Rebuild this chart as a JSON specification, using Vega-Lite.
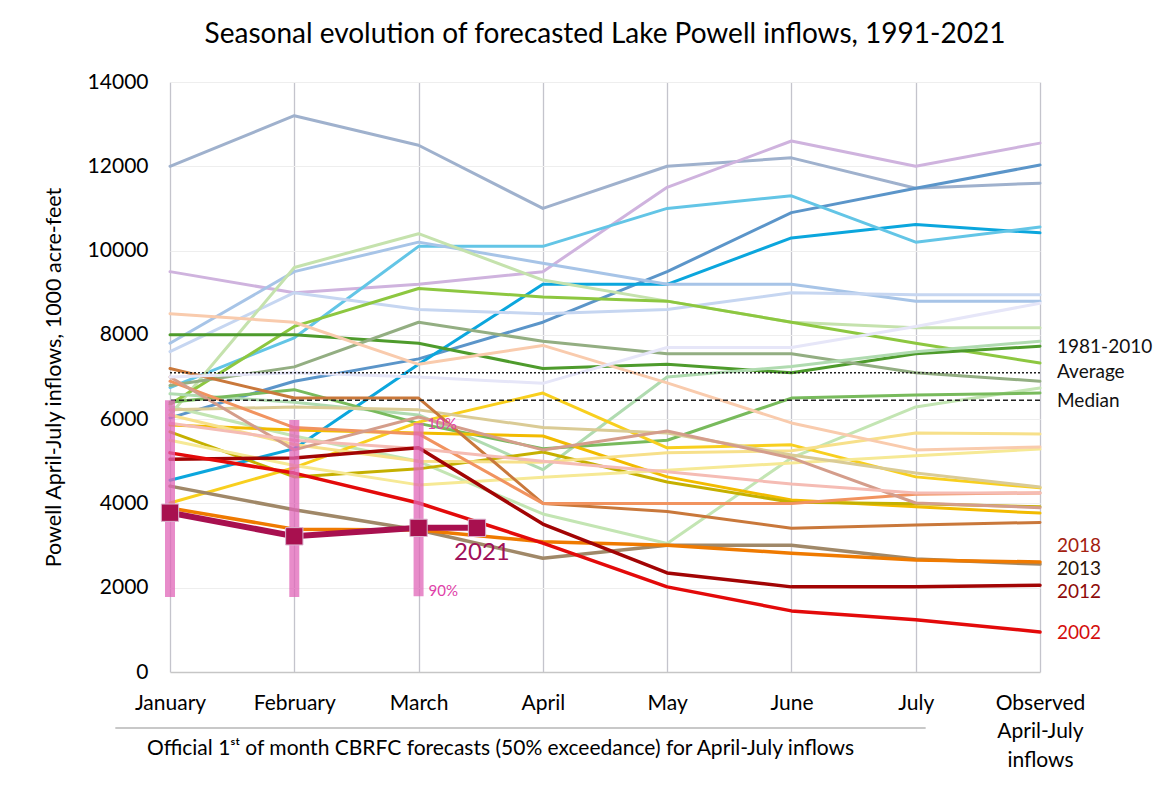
{
  "$schema": "https://vega.github.io/schema/vega-lite/v6.json",
  "width": 870,
  "height": 590,
  "autosize": {"type": "none"},
  "padding": {"left": 170, "top": 82, "right": 128, "bottom": 114},
  "background": "white",
  "config": {"font": "Lato", "view": {"stroke": null}},
  "title": {"text": "Seasonal evolution of forecasted Lake Powell inflows, 1991-2021", "font": "Lato", "fontSize": 28, "fontWeight": "normal", "color": "black", "anchor": "middle", "offset": 22},
  "resolve": {"scale": {"color": "independent"}},
  "datasets": {
    "lines": [
      {"year":1997,"m":0,"v":12000},{"year":1997,"m":1,"v":13200},{"year":1997,"m":2,"v":12500},{"year":1997,"m":3,"v":11000},{"year":1997,"m":4,"v":12000},{"year":1997,"m":5,"v":12200},{"year":1997,"m":6,"v":11480},{"year":1997,"m":7,"v":11600},
      {"year":2011,"m":0,"v":9500},{"year":2011,"m":1,"v":9000},{"year":2011,"m":2,"v":9200},{"year":2011,"m":3,"v":9500},{"year":2011,"m":4,"v":11500},{"year":2011,"m":5,"v":12600},{"year":2011,"m":6,"v":12000},{"year":2011,"m":7,"v":12550},
      {"year":1995,"m":0,"v":6030},{"year":1995,"m":1,"v":6900},{"year":1995,"m":2,"v":7430},{"year":1995,"m":3,"v":8300},{"year":1995,"m":4,"v":9500},{"year":1995,"m":5,"v":10900},{"year":1995,"m":6,"v":11480},{"year":1995,"m":7,"v":12030},
      {"year":2019,"m":0,"v":4550},{"year":2019,"m":1,"v":5300},{"year":2019,"m":2,"v":7300},{"year":2019,"m":3,"v":9200},{"year":2019,"m":4,"v":9200},{"year":2019,"m":5,"v":10300},{"year":2019,"m":6,"v":10620},{"year":2019,"m":7,"v":10420},
      {"year":1993,"m":0,"v":6750},{"year":1993,"m":1,"v":7930},{"year":1993,"m":2,"v":10100},{"year":1993,"m":3,"v":10100},{"year":1993,"m":4,"v":11000},{"year":1993,"m":5,"v":11300},{"year":1993,"m":6,"v":10200},{"year":1993,"m":7,"v":10560},
      {"year":2008,"m":0,"v":7800},{"year":2008,"m":1,"v":9500},{"year":2008,"m":2,"v":10200},{"year":2008,"m":3,"v":9700},{"year":2008,"m":4,"v":9200},{"year":2008,"m":5,"v":9200},{"year":2008,"m":6,"v":8800},{"year":2008,"m":7,"v":8800},
      {"year":1998,"m":0,"v":7600},{"year":1998,"m":1,"v":9000},{"year":1998,"m":2,"v":8600},{"year":1998,"m":3,"v":8500},{"year":1998,"m":4,"v":8600},{"year":1998,"m":5,"v":9000},{"year":1998,"m":6,"v":8950},{"year":1998,"m":7,"v":8950},
      {"year":1996,"m":0,"v":6100},{"year":1996,"m":1,"v":9600},{"year":1996,"m":2,"v":10400},{"year":1996,"m":3,"v":9300},{"year":1996,"m":4,"v":8800},{"year":1996,"m":5,"v":8300},{"year":1996,"m":6,"v":8170},{"year":1996,"m":7,"v":8170},
      {"year":2005,"m":0,"v":6350},{"year":2005,"m":1,"v":8200},{"year":2005,"m":2,"v":9100},{"year":2005,"m":3,"v":8900},{"year":2005,"m":4,"v":8800},{"year":2005,"m":5,"v":8300},{"year":2005,"m":6,"v":7800},{"year":2005,"m":7,"v":7330},
      {"year":2017,"m":0,"v":8000},{"year":2017,"m":1,"v":8000},{"year":2017,"m":2,"v":7800},{"year":2017,"m":3,"v":7200},{"year":2017,"m":4,"v":7300},{"year":2017,"m":5,"v":7100},{"year":2017,"m":6,"v":7550},{"year":2017,"m":7,"v":7730},
      {"year":2009,"m":0,"v":6800},{"year":2009,"m":1,"v":7240},{"year":2009,"m":2,"v":8300},{"year":2009,"m":3,"v":7850},{"year":2009,"m":4,"v":7550},{"year":2009,"m":5,"v":7550},{"year":2009,"m":6,"v":7100},{"year":2009,"m":7,"v":6900},
      {"year":1999,"m":0,"v":6600},{"year":1999,"m":1,"v":6400},{"year":1999,"m":2,"v":6100},{"year":1999,"m":3,"v":4800},{"year":1999,"m":4,"v":7000},{"year":1999,"m":5,"v":7250},{"year":1999,"m":6,"v":7600},{"year":1999,"m":7,"v":7850},
      {"year":2014,"m":0,"v":6300},{"year":2014,"m":1,"v":5600},{"year":2014,"m":2,"v":5000},{"year":2014,"m":3,"v":3750},{"year":2014,"m":4,"v":3050},{"year":2014,"m":5,"v":5080},{"year":2014,"m":6,"v":6290},{"year":2014,"m":7,"v":6740},
      {"year":2016,"m":0,"v":6400},{"year":2016,"m":1,"v":6700},{"year":2016,"m":2,"v":5900},{"year":2016,"m":3,"v":5300},{"year":2016,"m":4,"v":5500},{"year":2016,"m":5,"v":6500},{"year":2016,"m":6,"v":6570},{"year":2016,"m":7,"v":6620},
      {"year":2020,"m":0,"v":5860},{"year":2020,"m":1,"v":5740},{"year":2020,"m":2,"v":5670},{"year":2020,"m":3,"v":5600},{"year":2020,"m":4,"v":4630},{"year":2020,"m":5,"v":4080},{"year":2020,"m":6,"v":3920},{"year":2020,"m":7,"v":3770},
      {"year":2010,"m":0,"v":4010},{"year":2010,"m":1,"v":4850},{"year":2010,"m":2,"v":5930},{"year":2010,"m":3,"v":6620},{"year":2010,"m":4,"v":5320},{"year":2010,"m":5,"v":5390},{"year":2010,"m":6,"v":4630},{"year":2010,"m":7,"v":4370},
      {"year":2006,"m":0,"v":5700},{"year":2006,"m":1,"v":4630},{"year":2006,"m":2,"v":4820},{"year":2006,"m":3,"v":5220},{"year":2006,"m":4,"v":4510},{"year":2006,"m":5,"v":4030},{"year":2006,"m":6,"v":3990},{"year":2006,"m":7,"v":3920},
      {"year":2001,"m":0,"v":5500},{"year":2001,"m":1,"v":4900},{"year":2001,"m":2,"v":4440},{"year":2001,"m":3,"v":4620},{"year":2001,"m":4,"v":4790},{"year":2001,"m":5,"v":4960},{"year":2001,"m":6,"v":5130},{"year":2001,"m":7,"v":5290},
      {"year":1991,"m":0,"v":6100},{"year":1991,"m":1,"v":5400},{"year":1991,"m":2,"v":5000},{"year":1991,"m":3,"v":4980},{"year":1991,"m":4,"v":5200},{"year":1991,"m":5,"v":5250},{"year":1991,"m":6,"v":5670},{"year":1991,"m":7,"v":5650},
      {"year":2007,"m":0,"v":6220},{"year":2007,"m":1,"v":6290},{"year":2007,"m":2,"v":6220},{"year":2007,"m":3,"v":5800},{"year":2007,"m":4,"v":5670},{"year":2007,"m":5,"v":5150},{"year":2007,"m":6,"v":4720},{"year":2007,"m":7,"v":4390},
      {"year":2003,"m":0,"v":7200},{"year":2003,"m":1,"v":6500},{"year":2003,"m":2,"v":6500},{"year":2003,"m":3,"v":4000},{"year":2003,"m":4,"v":3810},{"year":2003,"m":5,"v":3410},{"year":2003,"m":6,"v":3490},{"year":2003,"m":7,"v":3550},
      {"year":2015,"m":0,"v":6900},{"year":2015,"m":1,"v":5800},{"year":2015,"m":2,"v":5650},{"year":2015,"m":3,"v":4000},{"year":2015,"m":4,"v":4000},{"year":2015,"m":5,"v":4000},{"year":2015,"m":6,"v":4220},{"year":2015,"m":7,"v":4250},
      {"year":1994,"m":0,"v":7000},{"year":1994,"m":1,"v":5270},{"year":1994,"m":2,"v":6050},{"year":1994,"m":3,"v":5270},{"year":1994,"m":4,"v":5720},{"year":1994,"m":5,"v":5080},{"year":1994,"m":6,"v":4010},{"year":1994,"m":7,"v":3900},
      {"year":2000,"m":0,"v":8500},{"year":2000,"m":1,"v":8300},{"year":2000,"m":2,"v":7300},{"year":2000,"m":3,"v":7750},{"year":2000,"m":4,"v":6860},{"year":2000,"m":5,"v":5910},{"year":2000,"m":6,"v":5270},{"year":2000,"m":7,"v":5340},
      {"year":1992,"m":0,"v":5900},{"year":1992,"m":1,"v":5500},{"year":1992,"m":2,"v":5300},{"year":1992,"m":3,"v":5000},{"year":1992,"m":4,"v":4750},{"year":1992,"m":5,"v":4460},{"year":1992,"m":6,"v":4250},{"year":1992,"m":7,"v":4250},
      {"year":2004,"m":0,"v":7000},{"year":2004,"m":1,"v":7100},{"year":2004,"m":2,"v":7000},{"year":2004,"m":3,"v":6850},{"year":2004,"m":4,"v":7700},{"year":2004,"m":5,"v":7700},{"year":2004,"m":6,"v":8200},{"year":2004,"m":7,"v":8750},
      {"year":2013,"m":0,"v":4410},{"year":2013,"m":1,"v":3850},{"year":2013,"m":2,"v":3370},{"year":2013,"m":3,"v":2700},{"year":2013,"m":4,"v":3010},{"year":2013,"m":5,"v":3010},{"year":2013,"m":6,"v":2680},{"year":2013,"m":7,"v":2560},
      {"year":2018,"m":0,"v":3890},{"year":2018,"m":1,"v":3390},{"year":2018,"m":2,"v":3370},{"year":2018,"m":3,"v":3090},{"year":2018,"m":4,"v":3010},{"year":2018,"m":5,"v":2820},{"year":2018,"m":6,"v":2660},{"year":2018,"m":7,"v":2610},
      {"year":2012,"m":0,"v":5050},{"year":2012,"m":1,"v":5080},{"year":2012,"m":2,"v":5320},{"year":2012,"m":3,"v":3510},{"year":2012,"m":4,"v":2350},{"year":2012,"m":5,"v":2020},{"year":2012,"m":6,"v":2020},{"year":2012,"m":7,"v":2060},
      {"year":2002,"m":0,"v":5200},{"year":2002,"m":1,"v":4720},{"year":2002,"m":2,"v":4010},{"year":2002,"m":3,"v":3060},{"year":2002,"m":4,"v":2020},{"year":2002,"m":5,"v":1450},{"year":2002,"m":6,"v":1240},{"year":2002,"m":7,"v":950}
    ],
    "y2021": [
      {"m":0,"v":3780},{"m":1,"v":3220},{"m":2,"v":3420},{"m":2.47,"v":3420}
    ],
    "bars": [
      {"m":0,"lo":1780,"hi":6450},{"m":1,"lo":1780,"hi":5980},{"m":2,"lo":1800,"hi":5910}
    ],
    "right": [
      {"t":"1981-2010","v":7710},{"t":"Average","v":7120},{"t":"Median","v":6440},
      {"t":"2018","v":2990},{"t":"2013","v":2440},{"t":"2012","v":1890},{"t":"2002","v":925}
    ],
    "pct": [
      {"t":"10%","m":2.07,"v":5890},{"t":"90%","m":2.08,"v":1930}
    ],
    "lab21": [
      {"t":"2021","m":2.51,"v":2830}
    ]
  },
  "layer": [
    {
      "data": {"name": "lines"},
      "transform": [{"filter": "indexof([2002, 2012, 2013, 2018], datum.year) < 0"}],
      "mark": {"type": "line", "strokeWidth": 3, "strokeCap": "round", "strokeJoin": "round"},
      "encoding": {
        "x": {"field": "m", "type": "quantitative",
          "scale": {"domain": [0, 7], "nice": false, "zero": false},
          "axis": {"values": [0,1,2,3,4,5,6,7],
            "labelExpr": "datum.value == 7 ? ['Observed','April-July','inflows'] : ['January','February','March','April','May','June','July'][datum.value]",
            "labelFont": "Lato", "labelFontSize": 21, "labelColor": "black", "labelPadding": 20, "labelLineHeight": 28.5,
            "labelOverlap": false, "labelFlush": false,
            "ticks": false, "domain": true, "domainColor": "#c6c6c6", "domainWidth": 1.5,
            "grid": true, "gridColor": "#c4c4cc", "gridWidth": 1.3,
            "title": "Official 1ˢᵗ of month CBRFC forecasts (50% exceedance) for April-July inflows",
            "titleFont": "Lato", "titleFontSize": 21, "titleFontWeight": "normal", "titleColor": "black",
            "titleX": 330, "titleY": 76, "titleBaseline": "middle", "titleAlign": "center"}},
        "y": {"field": "v", "type": "quantitative",
          "scale": {"domain": [0, 14000], "nice": false},
          "axis": {"values": [0,2000,4000,6000,8000,10000,12000,14000], "format": "d",
            "labelFont": "Lato", "labelFontSize": 21, "labelColor": "black", "labelPadding": 22,
            "ticks": false, "domain": false, "grid": true, "gridColor": "#eeeeee", "gridWidth": 1,
            "title": "Powell April-July inflows, 1000 acre-feet",
            "titleFont": "Lato", "titleFontSize": 21.5, "titleFontWeight": "normal", "titleColor": "black", "titlePadding": 22}},
        "color": {"field": "year", "type": "nominal", "legend": null,
          "scale": {
            "domain": [1997,2011,1995,2019,1993,2008,1998,1996,2005,2017,2009,1999,2014,2016,2020,2010,2006,2001,1991,2007,2003,2015,1994,2000,1992,2004],
            "range": ["#9fb1cd","#cfb3de","#5b95c9","#0ba6dd","#63c5e6","#a7c4e7","#c6d6f1","#c5e2ad","#8dc740","#4e9b2c","#93ae82","#b0dbb0","#c3e5b3","#78ba5c","#f2bb00","#f8cf1e","#c5b000","#f6e995","#f7e08a","#dacb95","#c9783b","#f1935f","#d49d8b","#f9cbad","#f5bcb4","#e6e6f8"]}}
      }
    },
    {
      "data": {"name": "lines"},
      "transform": [{"filter": "indexof([2002, 2012, 2013, 2018], datum.year) >= 0"}],
      "mark": {"type": "line", "strokeWidth": 3.5, "strokeCap": "round", "strokeJoin": "round"},
      "encoding": {
        "x": {"field": "m", "type": "quantitative"},
        "y": {"field": "v", "type": "quantitative"},
        "color": {"field": "year", "type": "nominal", "legend": null,
          "scale": {"domain": [2013, 2018, 2012, 2002], "range": ["#a08868", "#ef7a00", "#a20404", "#e30a0a"]}}
      }
    },
    {
      "data": {"values": [{}]},
      "mark": {"type": "rule", "color": "#222222", "strokeWidth": 1.5, "strokeDash": [2, 2]},
      "encoding": {"y": {"datum": 7100}}
    },
    {
      "data": {"values": [{}]},
      "mark": {"type": "rule", "color": "#222222", "strokeWidth": 1.5, "strokeDash": [5, 3]},
      "encoding": {"y": {"datum": 6450}}
    },
    {
      "data": {"values": [{}]},
      "mark": {"type": "rule", "color": "#c8c8c8", "strokeWidth": 2},
      "encoding": {"x": {"datum": -0.44}, "x2": {"datum": 6.08}, "y": {"datum": -1330}}
    },
    {
      "data": {"name": "bars"},
      "mark": {"type": "rule", "color": "#e066b8", "strokeWidth": 10, "opacity": 0.75},
      "encoding": {
        "x": {"field": "m", "type": "quantitative"},
        "y": {"field": "lo", "type": "quantitative"},
        "y2": {"field": "hi"}
      }
    },
    {
      "data": {"name": "y2021"},
      "mark": {"type": "line", "color": "#a8104f", "strokeWidth": 6,
        "point": {"shape": "square", "size": 300, "filled": true, "color": "#a8104f", "stroke": "#d9b3cf", "strokeWidth": 1}},
      "encoding": {
        "x": {"field": "m", "type": "quantitative"},
        "y": {"field": "v", "type": "quantitative"}
      }
    },
    {
      "data": {"name": "right"},
      "mark": {"type": "text", "align": "left", "baseline": "middle", "dx": 17, "fontSize": 19, "font": "Lato"},
      "encoding": {
        "x": {"datum": 7},
        "y": {"field": "v", "type": "quantitative"},
        "text": {"field": "t"},
        "color": {"field": "t", "type": "nominal", "legend": null,
          "scale": {"domain": ["1981-2010","Average","Median","2018","2013","2012","2002"],
            "range": ["#111111","#111111","#111111","#a3200f","#2b1408","#8e0a0a","#d40d0d"]}}
      }
    },
    {
      "data": {"name": "pct"},
      "mark": {"type": "text", "align": "left", "baseline": "middle", "fontSize": 15, "font": "Lato", "color": "#e040a8"},
      "encoding": {
        "x": {"field": "m", "type": "quantitative"},
        "y": {"field": "v", "type": "quantitative"},
        "text": {"field": "t"}
      }
    },
    {
      "data": {"name": "lab21"},
      "mark": {"type": "text", "align": "center", "baseline": "middle", "fontSize": 24, "font": "Lato", "color": "#a0105a"},
      "encoding": {
        "x": {"field": "m", "type": "quantitative"},
        "y": {"field": "v", "type": "quantitative"},
        "text": {"field": "t"}
      }
    }
  ]
}
